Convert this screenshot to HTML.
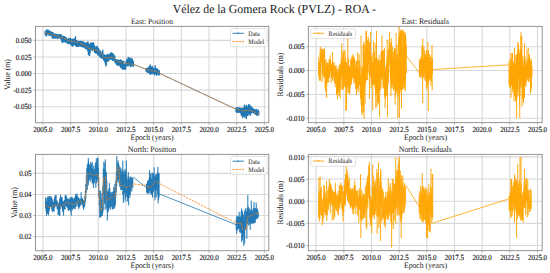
<!DOCTYPE html>
<html><head><meta charset="utf-8"><style>html,body{margin:0;padding:0;background:#fff;width:550px;height:273px;overflow:hidden}svg{display:block} text{fill:#1a1a1a;text-rendering:geometricPrecision} text.k{stroke:#111;stroke-width:0.12px;fill:#111}</style></head>
<body><svg width="550" height="273" viewBox="0 0 550 273" font-family='"Liberation Serif", serif' fill="#1a1a1a"><defs><clipPath id="cTL"><rect x="35.5" y="26.4" width="233.3" height="96.30000000000001"/></clipPath><clipPath id="cTR"><rect x="308.4" y="26.4" width="233.80000000000007" height="96.19999999999999"/></clipPath><clipPath id="cBL"><rect x="35.5" y="154.4" width="233.3" height="96.29999999999998"/></clipPath><clipPath id="cBR"><rect x="308.4" y="154.4" width="233.80000000000007" height="96.19999999999999"/></clipPath></defs><rect width="550" height="273" fill="#fff"/><text transform="translate(274.4,12.6) scale(0.9601,1)" font-size="12.3" text-anchor="middle">Vélez de la Gomera Rock (PVLZ) - ROA -</text>
<text transform="translate(152,23.8) scale(0.9259,1)" font-size="8.23" text-anchor="middle">East: Position</text>
<text transform="translate(425.3,23.8) scale(0.9259,1)" font-size="8.31" text-anchor="middle">East: Residuals</text>
<text transform="translate(152,151.6) scale(0.9259,1)" font-size="8.50" text-anchor="middle">North: Position</text>
<text transform="translate(425.3,151.6) scale(0.9259,1)" font-size="8.50" text-anchor="middle">North: Residuals</text>
<text transform="translate(152,139.9) scale(0.9259,1)" font-size="8.37" text-anchor="middle">Epoch (years)</text>
<text transform="translate(152,268.0) scale(0.9259,1)" font-size="8.37" text-anchor="middle">Epoch (years)</text>
<text transform="translate(425.5,139.9) scale(0.9259,1)" font-size="8.37" text-anchor="middle">Epoch (years)</text>
<text transform="translate(425.5,268.0) scale(0.9259,1)" font-size="8.37" text-anchor="middle">Epoch (years)</text>
<text transform="translate(9.8,74.5) rotate(-90) scale(0.9259,1)" font-size="8.42" text-anchor="middle">Value (m)</text>
<text transform="translate(16.8,202.5) rotate(-90) scale(0.9259,1)" font-size="8.42" text-anchor="middle">Value (m)</text>
<text transform="translate(282.8,74.5) rotate(-90) scale(0.9259,1)" font-size="8.48" text-anchor="middle">Residuals (m)</text>
<text transform="translate(282.8,202.5) rotate(-90) scale(0.9259,1)" font-size="8.48" text-anchor="middle">Residuals (m)</text>
<line x1="42.90" y1="26.4" x2="42.90" y2="122.7" stroke="#d8d8d8" stroke-width="1.1"/>
<line x1="70.59" y1="26.4" x2="70.59" y2="122.7" stroke="#d8d8d8" stroke-width="1.1"/>
<line x1="98.28" y1="26.4" x2="98.28" y2="122.7" stroke="#d8d8d8" stroke-width="1.1"/>
<line x1="125.96" y1="26.4" x2="125.96" y2="122.7" stroke="#d8d8d8" stroke-width="1.1"/>
<line x1="153.65" y1="26.4" x2="153.65" y2="122.7" stroke="#d8d8d8" stroke-width="1.1"/>
<line x1="181.34" y1="26.4" x2="181.34" y2="122.7" stroke="#d8d8d8" stroke-width="1.1"/>
<line x1="209.03" y1="26.4" x2="209.03" y2="122.7" stroke="#d8d8d8" stroke-width="1.1"/>
<line x1="236.71" y1="26.4" x2="236.71" y2="122.7" stroke="#d8d8d8" stroke-width="1.1"/>
<line x1="264.40" y1="26.4" x2="264.40" y2="122.7" stroke="#d8d8d8" stroke-width="1.1"/>
<line x1="35.5" y1="40.40" x2="268.8" y2="40.40" stroke="#d8d8d8" stroke-width="1.1"/>
<line x1="35.5" y1="56.97" x2="268.8" y2="56.97" stroke="#d8d8d8" stroke-width="1.1"/>
<line x1="35.5" y1="73.55" x2="268.8" y2="73.55" stroke="#d8d8d8" stroke-width="1.1"/>
<line x1="35.5" y1="90.12" x2="268.8" y2="90.12" stroke="#d8d8d8" stroke-width="1.1"/>
<line x1="35.5" y1="106.70" x2="268.8" y2="106.70" stroke="#d8d8d8" stroke-width="1.1"/>
<g clip-path="url(#cTL)">
<path d="M45.20 31.30V34.87M45.80 31.83V35.29M46.40 30.10V36.03M47.00 30.04V33.83M47.60 30.23V33.93M48.20 30.24V35.10M48.80 30.83V34.56M49.40 31.65V34.49M50.00 31.11V35.66M50.60 31.82V34.62M51.20 31.82V34.96M51.80 33.15V36.34M52.40 32.44V38.04M53.00 32.70V38.20M53.60 34.15V37.39M54.20 33.89V37.68M54.80 34.32V38.42M55.40 34.38V37.84M56.00 34.24V37.84M56.60 34.59V37.57M57.20 34.63V38.51M57.80 35.25V38.08M58.40 34.80V37.73M59.00 34.94V37.92M59.60 34.62V38.05M60.20 34.62V37.59M60.80 35.37V38.79M61.40 34.87V39.82M62.00 36.65V42.44M62.60 36.35V40.75M63.20 36.35V41.87M63.80 36.76V41.87M64.40 36.72V41.62M65.00 37.00V41.46M65.60 38.42V42.27M66.20 37.63V41.68M66.80 39.13V41.93M67.40 39.31V43.39M68.00 39.39V42.64M68.60 38.42V43.46M69.20 38.70V43.38M69.80 39.67V41.94M70.40 38.38V44.16M71.00 39.47V43.93M71.60 39.42V45.17M72.20 39.13V45.96M72.80 39.66V46.20M73.40 40.45V45.19M74.00 38.97V44.46M74.60 39.33V44.54M75.20 38.32V44.34M75.80 40.78V45.99M76.40 40.35V44.12M77.00 40.73V46.49M77.60 41.57V45.30M78.20 41.72V46.56M78.80 41.67V45.31M79.40 41.29V45.92M80.00 41.66V45.92M80.60 41.51V44.98M81.20 41.44V46.43M81.80 42.35V46.67M82.40 41.75V46.64M83.00 42.58V45.69M83.60 41.90V47.19M84.20 42.62V46.80M84.80 43.18V47.27M85.40 43.78V48.38M86.00 42.96V48.74M86.60 44.05V48.88M87.20 42.77V48.48M87.80 43.45V51.06M88.40 43.82V54.81M89.00 45.56V51.95M89.60 44.28V55.41M90.20 43.53V52.81M90.80 43.25V49.39M91.40 44.42V49.21M92.00 42.84V50.24M92.60 43.41V50.24M93.20 42.73V49.51M93.80 43.70V49.42M94.40 45.90V52.16M95.00 46.38V51.80M95.60 47.94V53.06M96.20 47.81V52.65M96.80 46.41V53.22M97.40 46.56V53.82M98.00 49.24V55.13M98.60 48.56V53.84M99.20 50.21V55.03M99.80 50.81V56.65M100.40 50.81V56.74M101.00 51.78V57.95M101.60 53.08V57.18M102.20 53.34V58.12M102.80 54.42V58.13M103.40 54.89V59.23M104.00 55.65V60.39M104.60 54.89V61.17M105.20 56.22V63.06M105.80 55.49V65.93M106.40 56.21V64.67M107.00 54.96V60.34M107.60 54.31V61.23M108.20 55.33V61.05M108.80 54.88V60.06M109.40 54.07V59.83M110.00 54.39V57.87M110.60 53.86V58.66M111.20 54.91V59.21M111.80 53.10V58.45M112.40 53.79V60.43M113.00 53.56V59.66M113.60 54.70V58.64M114.20 55.94V60.71M114.80 56.00V61.86M115.40 59.47V62.82M116.00 59.60V63.35M116.60 59.99V64.30M117.20 59.83V65.10M117.80 60.03V65.37M118.40 60.41V63.42M119.00 61.52V65.02M119.60 60.29V64.16M120.20 59.75V66.46M120.80 61.26V67.40M121.40 60.50V67.74M122.00 61.26V68.27M122.60 61.73V69.17M123.20 62.78V68.16M123.80 61.06V69.03M124.40 64.17V68.30M125.00 64.89V69.15M125.60 62.89V69.15M126.20 61.40V66.35M126.80 59.49V65.25M127.40 59.44V65.56M128.00 59.00V65.91M128.60 59.23V64.85M129.20 57.92V64.53M129.80 59.37V65.53M130.40 58.98V66.64M131.00 58.23V64.24M131.60 59.74V65.74M132.20 58.99V65.86M132.80 60.76V65.86M133.40 61.61V66.33M146.10 68.63V71.37M146.70 68.28V71.05M147.30 68.48V72.27M147.90 68.79V72.18M148.50 67.37V71.06M149.10 67.00V73.14M149.70 66.23V72.49M150.30 65.80V74.44M150.90 67.10V72.37M151.50 67.09V73.58M152.10 66.45V73.95M152.70 67.03V72.02M153.30 68.27V73.29M153.90 69.01V72.76M154.50 69.25V74.73M155.10 65.61V73.55M155.70 68.65V73.77M156.30 68.65V75.08M156.90 68.70V75.12M157.50 69.49V73.63M158.10 70.16V73.83M158.70 70.44V74.82M159.30 71.00V74.82M236.00 108.00V111.42M236.60 107.93V112.34M237.20 109.09V112.58M237.80 107.73V112.11M238.40 108.22V112.09M239.00 108.22V112.36M239.60 107.78V111.65M240.20 108.19V112.79M240.80 108.48V113.15M241.40 109.00V115.60M242.00 108.17V115.55M242.60 108.36V114.95M243.20 108.15V114.85M243.80 108.01V115.91M244.40 105.23V116.15M245.00 107.29V117.21M245.60 108.31V114.47M246.20 108.52V115.50M246.80 106.19V115.41M247.40 106.82V115.23M248.00 107.44V115.23M248.60 105.31V113.49M249.20 106.47V111.88M249.80 105.03V114.52M250.40 106.31V115.27M251.00 106.31V111.88M251.60 107.68V112.90M252.20 108.52V112.35M252.80 107.96V111.88M253.40 109.32V112.77M254.00 109.59V112.91M254.60 109.40V112.30M255.20 109.83V114.21M255.80 110.66V113.73M256.40 109.32V115.05M257.00 111.31V114.55M257.60 110.70V115.19M258.20 109.93V115.21M258.80 111.34V114.52M75.40 41.85L75.48 36.60M88.00 47.85L87.94 41.80M92.90 49.40L92.84 43.20M103.00 56.27L102.77 50.20M110.80 57.16L110.98 52.60M128.40 63.83L128.19 57.40M150.20 70.19L150.24 64.80M246.00 110.61L246.11 105.20M248.60 110.41L248.85 104.40M243.00 110.85L242.85 117.80M246.30 110.58L246.39 118.60" fill="none" stroke="#1f77b4" stroke-width="1.3" stroke-linecap="round"/>
<polyline points="133.6,64.3 146.1,69.3" fill="none" stroke="#1f77b4" stroke-width="0.8"/>
<polyline points="159.8,73.4 235.9,109.2" fill="none" stroke="#1f77b4" stroke-width="0.8"/>
<polyline points="45.10,33.00 49.50,33.60 53.20,34.80 56.80,36.20 59.00,37.10 62.00,37.70 64.90,38.80 67.80,40.20 70.80,41.00 75.20,41.80 78.70,42.60 82.30,44.30 84.50,45.20 88.20,48.00 90.40,48.80 93.30,49.50 96.20,49.90 99.20,51.40 100.70,53.20 103.70,57.20 107.30,58.30 111.00,57.10 113.90,58.00 116.80,61.40 120.50,62.10 123.70,63.30 126.00,63.60 128.10,63.80 130.30,64.00 133.60,64.50 146.00,69.30 149.30,70.00 153.00,70.80 156.60,71.50 159.80,73.60 235.90,109.20 239.50,109.90 243.20,110.90 246.10,110.60 248.70,110.40 251.20,111.00 254.20,111.70 257.10,113.00 258.90,113.50" fill="none" stroke="#ff7f0e" stroke-width="0.8" stroke-dasharray="2.2,1.1"/>
</g>
<rect x="35.5" y="26.4" width="233.3" height="96.30000000000001" fill="none" stroke="#959595" stroke-width="1"/>
<line x1="42.90" y1="122.7" x2="42.90" y2="124.7" stroke="#959595" stroke-width="0.8"/>
<text transform="translate(42.90,132.00) scale(0.8860759493670886,1)" font-size="7.9" text-anchor="middle" class="k">2005.0</text>
<line x1="70.59" y1="122.7" x2="70.59" y2="124.7" stroke="#959595" stroke-width="0.8"/>
<text transform="translate(70.59,132.00) scale(0.8860759493670886,1)" font-size="7.9" text-anchor="middle" class="k">2007.5</text>
<line x1="98.28" y1="122.7" x2="98.28" y2="124.7" stroke="#959595" stroke-width="0.8"/>
<text transform="translate(98.28,132.00) scale(0.8860759493670886,1)" font-size="7.9" text-anchor="middle" class="k">2010.0</text>
<line x1="125.96" y1="122.7" x2="125.96" y2="124.7" stroke="#959595" stroke-width="0.8"/>
<text transform="translate(125.96,132.00) scale(0.8860759493670886,1)" font-size="7.9" text-anchor="middle" class="k">2012.5</text>
<line x1="153.65" y1="122.7" x2="153.65" y2="124.7" stroke="#959595" stroke-width="0.8"/>
<text transform="translate(153.65,132.00) scale(0.8860759493670886,1)" font-size="7.9" text-anchor="middle" class="k">2015.0</text>
<line x1="181.34" y1="122.7" x2="181.34" y2="124.7" stroke="#959595" stroke-width="0.8"/>
<text transform="translate(181.34,132.00) scale(0.8860759493670886,1)" font-size="7.9" text-anchor="middle" class="k">2017.5</text>
<line x1="209.03" y1="122.7" x2="209.03" y2="124.7" stroke="#959595" stroke-width="0.8"/>
<text transform="translate(209.03,132.00) scale(0.8860759493670886,1)" font-size="7.9" text-anchor="middle" class="k">2020.0</text>
<line x1="236.71" y1="122.7" x2="236.71" y2="124.7" stroke="#959595" stroke-width="0.8"/>
<text transform="translate(236.71,132.00) scale(0.8860759493670886,1)" font-size="7.9" text-anchor="middle" class="k">2022.5</text>
<line x1="264.40" y1="122.7" x2="264.40" y2="124.7" stroke="#959595" stroke-width="0.8"/>
<text transform="translate(264.40,132.00) scale(0.8860759493670886,1)" font-size="7.9" text-anchor="middle" class="k">2025.0</text>
<line x1="33.5" y1="40.40" x2="35.5" y2="40.40" stroke="#959595" stroke-width="0.8"/>
<text transform="translate(31.50,43.07) scale(0.8860759493670886,1)" font-size="7.9" text-anchor="end" class="k">0.050</text>
<line x1="33.5" y1="56.97" x2="35.5" y2="56.97" stroke="#959595" stroke-width="0.8"/>
<text transform="translate(31.50,59.65) scale(0.8860759493670886,1)" font-size="7.9" text-anchor="end" class="k">0.025</text>
<line x1="33.5" y1="73.55" x2="35.5" y2="73.55" stroke="#959595" stroke-width="0.8"/>
<text transform="translate(31.50,76.22) scale(0.8860759493670886,1)" font-size="7.9" text-anchor="end" class="k">0.000</text>
<line x1="33.5" y1="90.12" x2="35.5" y2="90.12" stroke="#959595" stroke-width="0.8"/>
<text transform="translate(31.50,92.80) scale(0.8860759493670886,1)" font-size="7.9" text-anchor="end" class="k">-0.025</text>
<line x1="33.5" y1="106.70" x2="35.5" y2="106.70" stroke="#959595" stroke-width="0.8"/>
<text transform="translate(31.50,109.37) scale(0.8860759493670886,1)" font-size="7.9" text-anchor="end" class="k">-0.050</text>
<line x1="316.10" y1="26.4" x2="316.10" y2="122.6" stroke="#d8d8d8" stroke-width="1.1"/>
<line x1="343.78" y1="26.4" x2="343.78" y2="122.6" stroke="#d8d8d8" stroke-width="1.1"/>
<line x1="371.45" y1="26.4" x2="371.45" y2="122.6" stroke="#d8d8d8" stroke-width="1.1"/>
<line x1="399.12" y1="26.4" x2="399.12" y2="122.6" stroke="#d8d8d8" stroke-width="1.1"/>
<line x1="426.80" y1="26.4" x2="426.80" y2="122.6" stroke="#d8d8d8" stroke-width="1.1"/>
<line x1="454.48" y1="26.4" x2="454.48" y2="122.6" stroke="#d8d8d8" stroke-width="1.1"/>
<line x1="482.15" y1="26.4" x2="482.15" y2="122.6" stroke="#d8d8d8" stroke-width="1.1"/>
<line x1="509.82" y1="26.4" x2="509.82" y2="122.6" stroke="#d8d8d8" stroke-width="1.1"/>
<line x1="537.50" y1="26.4" x2="537.50" y2="122.6" stroke="#d8d8d8" stroke-width="1.1"/>
<line x1="308.4" y1="46.70" x2="542.2" y2="46.70" stroke="#d8d8d8" stroke-width="1.1"/>
<line x1="308.4" y1="70.57" x2="542.2" y2="70.57" stroke="#d8d8d8" stroke-width="1.1"/>
<line x1="308.4" y1="94.44" x2="542.2" y2="94.44" stroke="#d8d8d8" stroke-width="1.1"/>
<line x1="308.4" y1="118.30" x2="542.2" y2="118.30" stroke="#d8d8d8" stroke-width="1.1"/>
<g clip-path="url(#cTR)">
<path d="M318.60 57.52V75.33M319.10 62.39V79.18M319.60 61.64V80.86M320.10 52.40V75.42M320.60 52.21V80.78M321.10 48.65V66.14M321.60 48.58V61.95M322.10 51.87V82.34M322.60 48.99V74.31M323.10 52.41V69.51M323.60 50.22V76.24M324.10 48.42V78.38M324.60 48.42V77.64M325.10 60.35V88.17M325.60 65.64V91.80M326.10 59.21V87.06M326.60 62.85V85.74M327.10 64.80V83.02M327.60 62.88V81.91M328.10 62.37V79.42M328.60 65.14V82.31M329.10 59.22V77.77M329.60 59.22V77.43M330.10 55.58V73.79M330.60 59.40V72.51M331.10 64.46V82.74M331.60 64.39V78.29M332.10 61.85V75.68M332.60 61.85V81.07M333.10 66.73V76.20M333.60 62.35V77.32M334.10 61.86V80.44M334.60 65.74V82.90M335.10 69.68V87.37M335.60 65.99V83.74M336.10 64.98V82.35M336.60 73.92V94.84M337.10 68.01V91.34M337.60 72.11V99.32M338.10 72.20V92.73M338.60 68.98V92.96M339.10 65.23V86.13M339.60 65.62V91.01M340.10 63.62V97.95M340.60 64.55V88.00M341.10 58.08V89.94M341.60 58.08V76.62M342.10 51.23V79.00M342.60 62.97V89.62M343.10 56.03V89.62M343.60 58.49V88.82M344.10 50.21V78.91M344.60 62.30V86.72M345.10 50.36V84.19M345.60 57.93V87.64M346.10 62.58V78.78M346.60 61.85V85.68M347.10 67.49V94.15M347.60 64.93V87.25M348.10 57.21V86.43M348.60 59.12V92.21M349.10 66.27V92.21M349.60 66.27V94.95M350.10 66.98V88.46M350.60 59.70V85.53M351.10 60.77V83.21M351.60 57.50V84.17M352.10 55.63V76.43M352.60 57.25V78.44M353.10 54.05V77.08M353.60 56.37V80.60M354.10 60.70V83.81M354.60 57.76V77.25M355.10 60.66V82.20M355.60 67.43V89.23M356.10 64.97V88.44M356.60 61.00V84.29M357.10 60.25V85.07M357.60 60.70V88.62M358.10 59.78V92.19M358.60 68.82V90.24M359.10 54.02V83.56M359.60 60.46V85.05M360.10 66.42V93.67M360.60 74.96V98.39M361.10 72.87V99.63M361.60 79.52V112.48M362.10 65.75V115.10M362.60 69.07V106.19M363.10 45.38V111.68M363.60 43.39V95.76M364.10 41.13V92.93M364.60 50.45V85.98M365.10 44.63V104.15M365.60 45.96V83.48M366.10 32.73V80.32M366.60 39.37V80.32M367.10 45.35V72.39M367.60 40.25V79.95M368.10 36.63V73.18M368.60 38.78V64.79M369.10 50.28V70.34M369.60 42.27V74.23M370.10 42.10V72.85M370.60 32.00V76.63M371.10 56.03V88.01M371.60 55.90V81.91M372.10 53.07V83.79M372.60 62.71V84.10M373.10 61.77V85.38M373.60 40.74V84.34M374.10 58.41V84.39M374.60 51.63V85.10M375.10 42.93V89.29M375.60 57.98V95.14M376.10 57.98V94.13M376.60 57.11V91.54M377.10 62.47V88.84M377.60 58.77V102.87M378.10 61.70V104.42M378.60 60.37V102.07M379.10 55.13V88.58M379.60 62.30V91.23M380.10 59.55V80.68M380.60 60.33V89.68M381.10 50.77V79.34M381.60 54.07V77.41M382.10 51.54V87.54M382.60 52.71V79.91M383.10 49.78V76.83M383.60 50.41V88.68M384.10 53.05V86.14M384.60 48.09V96.57M385.10 66.79V108.32M385.60 73.84V99.00M386.10 65.99V94.65M386.60 62.82V95.76M387.10 56.90V86.61M387.60 63.27V88.37M388.10 50.35V84.38M388.60 49.12V82.43M389.10 39.08V65.84M389.60 31.85V62.64M390.10 43.70V74.40M390.60 42.63V80.84M391.10 54.07V87.95M391.60 57.15V85.13M392.10 57.61V88.73M392.60 46.64V85.54M393.10 57.13V81.53M393.60 51.59V90.81M394.10 58.50V88.30M394.60 48.08V89.18M395.10 62.22V104.76M395.60 48.85V97.40M396.10 32.78V91.40M396.60 55.63V93.26M397.10 44.73V90.89M397.60 54.10V88.98M398.10 60.55V96.30M398.60 36.44V93.67M399.10 24.74V79.53M399.60 40.41V99.82M399.60 32.39V91.02M400.05 33.42V92.65M400.50 31.25V89.45M400.95 29.45V89.81M401.40 30.66V89.06M401.85 31.96V89.49M402.30 29.40V89.45M402.75 51.12V89.96M403.20 31.00V87.31M403.65 30.88V87.37M404.10 33.35V80.66M404.55 33.28V88.88M405.00 31.92V84.58M405.45 34.59V82.05M405.90 38.56V54.86M406.35 44.74V73.54M419.40 59.14V77.36M419.90 60.87V76.09M420.40 60.12V76.51M420.90 56.52V78.02M421.40 58.05V76.17M421.90 45.34V73.78M422.40 50.12V79.35M422.90 47.09V77.02M423.40 58.92V77.20M423.90 46.71V77.65M424.40 50.52V73.49M424.90 56.65V79.56M425.40 53.93V81.32M425.90 56.01V76.57M426.40 50.22V88.15M426.90 50.22V89.41M427.40 56.53V85.21M427.90 63.79V82.29M428.40 50.70V82.05M428.90 57.33V81.91M429.40 53.87V79.44M429.90 54.80V79.43M430.40 61.49V79.43M430.90 57.08V85.87M431.40 56.57V81.43M431.90 60.64V72.39M432.40 58.45V74.47M509.00 61.29V83.95M509.50 70.16V86.09M510.00 58.92V87.13M510.50 65.14V87.43M511.00 52.99V97.83M511.50 58.51V85.35M512.00 52.97V83.89M512.50 52.97V90.81M513.00 66.66V92.83M513.50 61.70V88.66M514.00 64.14V101.72M514.50 64.14V96.52M515.00 57.29V95.57M515.50 65.28V100.95M516.00 54.69V89.54M516.50 54.56V105.08M517.00 60.87V97.52M517.50 50.16V89.68M518.00 54.45V96.25M518.50 43.56V78.53M519.00 49.07V92.04M519.50 54.21V105.30M520.00 50.54V96.35M520.50 48.68V87.04M521.00 32.20V88.08M521.50 50.41V82.91M522.00 55.10V82.58M522.50 61.91V98.85M523.00 56.44V99.58M523.50 65.84V103.08M524.00 60.34V89.52M524.50 65.46V98.11M525.00 55.86V83.32M525.50 61.84V85.74M526.00 59.80V86.50M526.50 64.72V81.29M527.00 49.19V74.54M527.50 62.06V79.19M528.00 58.31V81.50M528.50 57.72V81.99M529.00 60.13V76.11M529.50 54.30V77.66M530.00 63.43V82.43M530.50 60.94V93.70M531.00 57.93V83.43M531.50 60.41V88.56M532.00 66.48V76.58M320.40 70.50L320.22 47.40M332.70 70.50L332.52 52.90M341.90 70.50L341.72 44.10M343.70 70.50L343.47 52.90M347.90 70.50L347.80 39.20M357.50 70.50L357.67 52.90M361.10 70.50L360.99 36.40M366.30 70.50L366.19 31.00M366.60 70.50L366.42 31.50M376.50 70.50L376.53 31.50M382.00 70.50L381.85 36.40M387.00 70.50L387.19 40.30M391.40 70.50L391.60 39.20M394.70 70.50L394.66 48.50M326.70 70.50L326.62 97.20M336.60 70.50L336.71 94.40M339.30 70.50L339.23 95.50M345.90 70.50L345.80 110.30M346.50 70.50L346.48 109.30M349.80 70.50L349.75 92.70M356.40 70.50L356.57 94.40M361.30 70.50L361.14 104.30M364.00 70.50L364.08 118.00M363.40 70.50L363.62 112.00M369.40 70.50L369.39 98.20M372.70 70.50L372.76 109.80M376.00 70.50L375.76 107.60M377.20 70.50L376.96 106.00M379.80 70.50L379.56 116.40M385.30 70.50L385.22 96.00M387.50 70.50L387.48 116.40M390.80 70.50L390.96 95.50M398.00 70.50L397.77 117.50M399.20 70.50L399.45 117.00M401.40 70.50L401.54 108.00M405.10 70.50L405.25 90.50M422.60 70.50L422.82 39.20M427.70 70.50L427.88 42.50M432.00 70.50L431.99 45.80M422.60 70.50L422.79 102.70M428.40 70.50L428.24 110.40M432.00 70.50L432.24 89.50M514.70 70.50L514.47 48.30M518.00 70.50L517.88 42.50M521.20 70.50L520.97 36.20M522.00 70.50L521.77 37.30M524.50 70.50L524.48 43.90M528.20 70.50L528.27 48.00M509.50 70.50L509.70 86.80M516.50 70.50L516.73 118.00M519.80 70.50L519.71 117.00M522.00 70.50L521.97 106.00M523.00 70.50L523.11 96.60M530.80 70.50L530.76 91.60" fill="none" stroke="#ffa500" stroke-width="0.95"/>
<circle cx="320.40" cy="47.40" r="0.6" fill="#ffa500"/>
<circle cx="332.70" cy="52.90" r="0.6" fill="#ffa500"/>
<circle cx="341.90" cy="44.10" r="0.6" fill="#ffa500"/>
<circle cx="343.70" cy="52.90" r="0.6" fill="#ffa500"/>
<circle cx="347.90" cy="39.20" r="0.6" fill="#ffa500"/>
<circle cx="357.50" cy="52.90" r="0.6" fill="#ffa500"/>
<circle cx="361.10" cy="36.40" r="0.6" fill="#ffa500"/>
<circle cx="366.30" cy="31.00" r="0.6" fill="#ffa500"/>
<circle cx="366.60" cy="31.50" r="0.6" fill="#ffa500"/>
<circle cx="376.50" cy="31.50" r="0.6" fill="#ffa500"/>
<circle cx="382.00" cy="36.40" r="0.6" fill="#ffa500"/>
<circle cx="387.00" cy="40.30" r="0.6" fill="#ffa500"/>
<circle cx="391.40" cy="39.20" r="0.6" fill="#ffa500"/>
<circle cx="394.70" cy="48.50" r="0.6" fill="#ffa500"/>
<circle cx="326.70" cy="97.20" r="0.6" fill="#ffa500"/>
<circle cx="336.60" cy="94.40" r="0.6" fill="#ffa500"/>
<circle cx="339.30" cy="95.50" r="0.6" fill="#ffa500"/>
<circle cx="345.90" cy="110.30" r="0.6" fill="#ffa500"/>
<circle cx="346.50" cy="109.30" r="0.6" fill="#ffa500"/>
<circle cx="349.80" cy="92.70" r="0.6" fill="#ffa500"/>
<circle cx="356.40" cy="94.40" r="0.6" fill="#ffa500"/>
<circle cx="361.30" cy="104.30" r="0.6" fill="#ffa500"/>
<circle cx="364.00" cy="118.00" r="0.6" fill="#ffa500"/>
<circle cx="363.40" cy="112.00" r="0.6" fill="#ffa500"/>
<circle cx="369.40" cy="98.20" r="0.6" fill="#ffa500"/>
<circle cx="372.70" cy="109.80" r="0.6" fill="#ffa500"/>
<circle cx="376.00" cy="107.60" r="0.6" fill="#ffa500"/>
<circle cx="377.20" cy="106.00" r="0.6" fill="#ffa500"/>
<circle cx="379.80" cy="116.40" r="0.6" fill="#ffa500"/>
<circle cx="385.30" cy="96.00" r="0.6" fill="#ffa500"/>
<circle cx="387.50" cy="116.40" r="0.6" fill="#ffa500"/>
<circle cx="390.80" cy="95.50" r="0.6" fill="#ffa500"/>
<circle cx="398.00" cy="117.50" r="0.6" fill="#ffa500"/>
<circle cx="399.20" cy="117.00" r="0.6" fill="#ffa500"/>
<circle cx="401.40" cy="108.00" r="0.6" fill="#ffa500"/>
<circle cx="405.10" cy="90.50" r="0.6" fill="#ffa500"/>
<circle cx="422.60" cy="39.20" r="0.6" fill="#ffa500"/>
<circle cx="427.70" cy="42.50" r="0.6" fill="#ffa500"/>
<circle cx="432.00" cy="45.80" r="0.6" fill="#ffa500"/>
<circle cx="422.60" cy="102.70" r="0.6" fill="#ffa500"/>
<circle cx="428.40" cy="110.40" r="0.6" fill="#ffa500"/>
<circle cx="432.00" cy="89.50" r="0.6" fill="#ffa500"/>
<circle cx="514.70" cy="48.30" r="0.6" fill="#ffa500"/>
<circle cx="518.00" cy="42.50" r="0.6" fill="#ffa500"/>
<circle cx="521.20" cy="36.20" r="0.6" fill="#ffa500"/>
<circle cx="522.00" cy="37.30" r="0.6" fill="#ffa500"/>
<circle cx="524.50" cy="43.90" r="0.6" fill="#ffa500"/>
<circle cx="528.20" cy="48.00" r="0.6" fill="#ffa500"/>
<circle cx="509.50" cy="86.80" r="0.6" fill="#ffa500"/>
<circle cx="516.50" cy="118.00" r="0.6" fill="#ffa500"/>
<circle cx="519.80" cy="117.00" r="0.6" fill="#ffa500"/>
<circle cx="522.00" cy="106.00" r="0.6" fill="#ffa500"/>
<circle cx="523.00" cy="96.60" r="0.6" fill="#ffa500"/>
<circle cx="530.80" cy="91.60" r="0.6" fill="#ffa500"/>
<polyline points="406.5,56 419.4,73" fill="none" stroke="#ffa500" stroke-width="0.8"/>
<polyline points="432.7,69.5 509,64.8" fill="none" stroke="#ffa500" stroke-width="0.8"/>
</g>
<rect x="308.4" y="26.4" width="233.80000000000007" height="96.19999999999999" fill="none" stroke="#959595" stroke-width="1"/>
<line x1="316.10" y1="122.6" x2="316.10" y2="124.6" stroke="#959595" stroke-width="0.8"/>
<text transform="translate(316.10,131.90) scale(0.8860759493670886,1)" font-size="7.9" text-anchor="middle" class="k">2005.0</text>
<line x1="343.78" y1="122.6" x2="343.78" y2="124.6" stroke="#959595" stroke-width="0.8"/>
<text transform="translate(343.78,131.90) scale(0.8860759493670886,1)" font-size="7.9" text-anchor="middle" class="k">2007.5</text>
<line x1="371.45" y1="122.6" x2="371.45" y2="124.6" stroke="#959595" stroke-width="0.8"/>
<text transform="translate(371.45,131.90) scale(0.8860759493670886,1)" font-size="7.9" text-anchor="middle" class="k">2010.0</text>
<line x1="399.12" y1="122.6" x2="399.12" y2="124.6" stroke="#959595" stroke-width="0.8"/>
<text transform="translate(399.12,131.90) scale(0.8860759493670886,1)" font-size="7.9" text-anchor="middle" class="k">2012.5</text>
<line x1="426.80" y1="122.6" x2="426.80" y2="124.6" stroke="#959595" stroke-width="0.8"/>
<text transform="translate(426.80,131.90) scale(0.8860759493670886,1)" font-size="7.9" text-anchor="middle" class="k">2015.0</text>
<line x1="454.48" y1="122.6" x2="454.48" y2="124.6" stroke="#959595" stroke-width="0.8"/>
<text transform="translate(454.48,131.90) scale(0.8860759493670886,1)" font-size="7.9" text-anchor="middle" class="k">2017.5</text>
<line x1="482.15" y1="122.6" x2="482.15" y2="124.6" stroke="#959595" stroke-width="0.8"/>
<text transform="translate(482.15,131.90) scale(0.8860759493670886,1)" font-size="7.9" text-anchor="middle" class="k">2020.0</text>
<line x1="509.82" y1="122.6" x2="509.82" y2="124.6" stroke="#959595" stroke-width="0.8"/>
<text transform="translate(509.82,131.90) scale(0.8860759493670886,1)" font-size="7.9" text-anchor="middle" class="k">2022.5</text>
<line x1="537.50" y1="122.6" x2="537.50" y2="124.6" stroke="#959595" stroke-width="0.8"/>
<text transform="translate(537.50,131.90) scale(0.8860759493670886,1)" font-size="7.9" text-anchor="middle" class="k">2025.0</text>
<line x1="306.4" y1="46.70" x2="308.4" y2="46.70" stroke="#959595" stroke-width="0.8"/>
<text transform="translate(304.40,49.38) scale(0.8860759493670886,1)" font-size="7.9" text-anchor="end" class="k">0.005</text>
<line x1="306.4" y1="70.57" x2="308.4" y2="70.57" stroke="#959595" stroke-width="0.8"/>
<text transform="translate(304.40,73.24) scale(0.8860759493670886,1)" font-size="7.9" text-anchor="end" class="k">0.000</text>
<line x1="306.4" y1="94.44" x2="308.4" y2="94.44" stroke="#959595" stroke-width="0.8"/>
<text transform="translate(304.40,97.11) scale(0.8860759493670886,1)" font-size="7.9" text-anchor="end" class="k">-0.005</text>
<line x1="306.4" y1="118.30" x2="308.4" y2="118.30" stroke="#959595" stroke-width="0.8"/>
<text transform="translate(304.40,120.97) scale(0.8860759493670886,1)" font-size="7.9" text-anchor="end" class="k">-0.010</text>
<line x1="42.90" y1="154.4" x2="42.90" y2="250.7" stroke="#d8d8d8" stroke-width="1.1"/>
<line x1="70.59" y1="154.4" x2="70.59" y2="250.7" stroke="#d8d8d8" stroke-width="1.1"/>
<line x1="98.28" y1="154.4" x2="98.28" y2="250.7" stroke="#d8d8d8" stroke-width="1.1"/>
<line x1="125.96" y1="154.4" x2="125.96" y2="250.7" stroke="#d8d8d8" stroke-width="1.1"/>
<line x1="153.65" y1="154.4" x2="153.65" y2="250.7" stroke="#d8d8d8" stroke-width="1.1"/>
<line x1="181.34" y1="154.4" x2="181.34" y2="250.7" stroke="#d8d8d8" stroke-width="1.1"/>
<line x1="209.03" y1="154.4" x2="209.03" y2="250.7" stroke="#d8d8d8" stroke-width="1.1"/>
<line x1="236.71" y1="154.4" x2="236.71" y2="250.7" stroke="#d8d8d8" stroke-width="1.1"/>
<line x1="264.40" y1="154.4" x2="264.40" y2="250.7" stroke="#d8d8d8" stroke-width="1.1"/>
<line x1="35.5" y1="173.40" x2="268.8" y2="173.40" stroke="#d8d8d8" stroke-width="1.1"/>
<line x1="35.5" y1="194.47" x2="268.8" y2="194.47" stroke="#d8d8d8" stroke-width="1.1"/>
<line x1="35.5" y1="215.54" x2="268.8" y2="215.54" stroke="#d8d8d8" stroke-width="1.1"/>
<line x1="35.5" y1="236.61" x2="268.8" y2="236.61" stroke="#d8d8d8" stroke-width="1.1"/>
<g clip-path="url(#cBL)">
<path d="M45.60 197.89V208.16M46.10 198.28V211.28M46.60 201.91V207.84M47.10 201.54V211.31M47.60 197.12V213.65M48.10 200.89V213.61M48.60 196.81V215.06M49.10 199.85V210.96M49.60 196.60V209.22M50.10 196.60V207.32M50.60 198.39V205.83M51.10 196.56V206.44M51.60 197.50V208.52M52.10 199.15V211.18M52.60 200.86V211.06M53.10 203.18V208.00M53.60 202.45V211.02M54.10 199.96V211.28M54.60 197.61V207.35M55.10 195.80V203.65M55.60 195.52V206.19M56.10 195.52V206.20M56.60 200.65V205.46M57.10 201.07V208.83M57.60 202.26V208.85M58.10 204.08V214.51M58.60 203.60V214.51M59.10 203.33V211.01M59.60 198.60V215.02M60.10 200.53V208.76M60.60 195.11V206.66M61.10 198.68V206.66M61.60 197.18V206.30M62.10 197.66V208.15M62.60 201.17V211.46M63.10 201.13V209.67M63.60 201.99V215.29M64.10 201.89V208.81M64.60 200.44V209.01M65.10 195.88V209.01M65.60 195.78V204.77M66.10 195.49V205.50M66.60 196.99V206.69M67.10 198.32V205.31M67.60 199.51V207.55M68.10 199.09V209.79M68.60 199.85V210.49M69.10 200.12V209.62M69.60 199.06V209.45M70.10 197.62V209.13M70.60 199.14V211.42M71.10 198.13V209.09M71.60 197.18V207.54M72.10 197.80V206.53M72.60 198.15V209.89M73.10 199.04V207.62M73.60 199.37V207.89M74.10 200.48V208.28M74.60 197.86V208.21M75.10 197.86V208.92M75.60 194.54V206.61M76.10 194.51V206.44M76.60 196.02V202.24M77.10 193.85V204.53M77.60 197.19V202.91M78.10 197.00V206.53M78.60 198.31V208.59M79.10 198.50V207.03M79.60 200.06V206.96M80.10 199.34V205.89M80.60 199.29V203.17M81.10 192.56V204.80M81.60 197.08V203.31M82.10 198.28V203.38M82.60 198.84V204.85M83.10 200.21V207.64M83.60 200.78V209.26M84.10 200.78V207.10M84.60 201.66V206.41M84.80 196.48V204.32M85.30 191.03V201.67M85.80 184.17V198.31M86.30 175.74V192.31M86.80 168.61V187.22M87.30 164.73V189.50M87.80 164.73V179.42M88.30 158.44V185.02M88.80 163.98V181.74M89.30 164.58V179.44M89.80 165.05V178.81M90.30 165.90V177.05M90.80 162.30V181.45M91.30 163.74V177.20M91.80 169.42V179.20M92.30 162.57V183.27M92.80 167.86V182.25M93.30 169.68V180.59M93.80 166.01V184.20M94.30 171.72V182.63M94.80 169.24V179.70M95.30 163.58V178.70M95.80 162.73V187.44M96.30 158.78V182.86M96.80 162.43V181.31M97.30 158.39V179.46M97.80 165.11V180.23M98.30 168.37V186.06M98.80 177.55V196.38M99.30 190.94V205.56M99.80 196.33V217.40M100.30 191.00V216.81M100.80 198.17V216.81M101.30 200.30V215.75M101.80 193.34V214.42M102.30 201.07V215.49M102.80 186.30V212.55M103.30 168.98V193.20M103.80 162.17V209.93M104.30 169.59V201.16M104.80 169.59V203.81M105.30 159.81V203.23M105.80 171.83V209.18M106.30 172.47V199.22M106.80 180.64V208.10M107.30 191.66V211.95M107.80 192.27V211.17M108.30 189.54V211.17M108.80 192.76V208.24M109.30 183.27V207.72M109.80 188.40V205.69M110.30 193.87V209.41M110.80 192.21V205.53M111.30 194.55V206.75M111.80 192.63V205.44M112.30 192.40V208.83M112.80 194.78V208.98M113.30 191.47V208.63M113.80 187.18V206.08M114.30 190.10V206.32M114.80 184.22V205.69M115.30 188.14V204.67M115.80 180.74V197.04M116.30 172.47V192.01M116.80 156.54V185.43M117.30 163.57V180.31M117.80 168.53V181.00M118.30 162.64V179.10M118.80 164.83V182.73M119.30 166.58V178.64M119.80 171.64V186.46M120.30 167.70V186.21M120.80 171.14V189.65M121.30 174.28V189.62M121.80 169.08V189.54M122.30 171.20V188.66M122.80 160.93V194.37M123.30 171.43V202.57M123.80 172.73V198.80M124.30 174.36V193.17M124.80 169.27V192.12M125.30 172.47V201.18M125.80 170.80V196.56M126.30 160.77V192.96M126.80 175.72V196.35M127.30 181.59V201.34M127.80 178.78V197.62M128.30 172.46V197.82M128.80 176.69V196.30M129.30 178.69V195.07M129.80 180.80V197.57M130.30 176.97V194.60M130.80 179.80V190.05M131.30 177.94V188.40M131.80 177.24V191.23M132.30 178.23V185.89M132.80 178.36V187.40M146.60 184.16V191.91M147.10 183.44V193.45M147.60 181.49V191.86M148.10 180.65V192.58M148.60 180.35V193.50M149.10 177.86V192.97M149.60 170.55V190.31M150.10 177.97V188.06M150.60 174.44V192.33M151.10 173.17V193.84M151.60 179.12V194.62M152.10 178.79V190.79M152.60 173.18V192.71M153.10 181.06V191.88M153.60 173.76V190.88M154.10 167.77V188.78M154.60 176.99V187.45M155.10 177.31V196.52M155.60 174.73V190.80M156.10 176.81V197.25M156.60 174.48V189.65M157.10 175.02V189.56M157.60 172.26V194.58M158.10 173.64V203.01M158.60 173.50V199.37M159.10 173.43V196.94M236.20 219.99V229.46M236.70 216.23V233.32M237.20 216.79V228.57M237.70 217.64V230.10M238.20 216.11V227.93M238.70 217.61V228.52M239.20 212.17V227.45M239.70 217.73V232.05M240.20 216.59V229.93M240.70 217.28V232.60M241.20 211.70V231.76M241.70 215.22V241.52M242.20 211.11V237.96M242.70 212.41V240.15M243.20 218.77V237.20M243.70 215.13V233.57M244.20 214.90V234.57M244.70 211.61V243.29M245.20 209.63V229.88M245.70 208.67V229.03M246.20 212.80V225.42M246.70 211.60V220.61M247.20 208.89V223.55M247.70 207.80V223.55M248.20 206.81V221.30M248.70 209.21V225.08M249.20 213.13V224.31M249.70 208.96V221.52M250.20 209.80V229.45M250.70 211.48V223.75M251.20 211.78V223.14M251.70 211.76V223.36M252.20 211.93V222.52M252.70 210.73V222.96M253.20 208.68V223.18M253.70 208.31V223.09M254.20 212.14V222.21M254.70 208.50V222.36M255.20 208.50V222.64M255.70 208.71V219.27M256.20 209.79V218.24M256.70 209.58V218.47M257.20 208.91V218.81M257.70 209.95V216.96M258.20 212.57V217.09M88.40 173.49L88.38 161.00M98.00 175.01L97.97 158.20M93.50 175.27L93.41 187.60M104.90 177.25L104.81 163.20M107.50 199.84L107.33 220.20M114.60 196.45L114.76 208.10M117.80 167.55L118.03 160.50M128.50 187.18L128.69 205.20M158.00 182.80L157.83 167.30M155.00 181.95L155.03 200.00M152.50 184.80L152.46 197.20M241.60 224.85L241.63 209.00M247.80 217.02L247.85 195.50M251.40 215.36L251.21 201.00M254.00 213.77L254.01 202.60M256.40 213.18L256.16 203.00M244.00 229.00L243.77 245.50M247.00 222.44L246.81 238.50M46.50 205.66L46.56 215.50M71.20 204.14L71.30 215.30M59.70 205.60L59.82 215.50" fill="none" stroke="#1f77b4" stroke-width="1.0" stroke-linecap="round"/>
<polyline points="133.2,177.0 146.6,187.9" fill="none" stroke="#1f77b4" stroke-width="0.8"/>
<polyline points="159.4,193.9 236.2,224.8" fill="none" stroke="#1f77b4" stroke-width="0.8"/>
<polyline points="45.50,205.00 46.40,205.60 50.10,208.00 53.70,206.00 56.90,204.20 61.10,206.30 63.80,204.70 67.50,202.40 70.20,204.00 73.90,204.50 77.50,201.90 80.30,201.00 83.50,203.50 84.90,199.00 85.80,192.00 87.30,174.00 88.80,173.30 93.80,175.40 97.50,174.20 98.30,175.50 99.00,196.00 101.20,210.40 102.30,207.00 103.40,178.00 105.40,177.00 106.40,200.60 109.60,198.40 112.20,197.30 115.30,196.20 117.30,168.00 118.40,167.00 119.30,172.00 120.00,185.50 123.70,185.70 127.40,187.60 130.30,186.50 133.20,183.90 146.40,185.40 147.30,187.00 150.30,187.30 155.40,181.50 159.00,183.30 236.00,223.00 238.30,223.80 241.20,223.00 242.50,229.00 246.50,229.00 247.40,217.20 250.00,216.00 252.20,215.00 254.40,213.50 256.90,213.10 258.30,213.00" fill="none" stroke="#ff7f0e" stroke-width="0.8" stroke-dasharray="2.2,1.1"/>
</g>
<rect x="35.5" y="154.4" width="233.3" height="96.29999999999998" fill="none" stroke="#959595" stroke-width="1"/>
<line x1="42.90" y1="250.7" x2="42.90" y2="252.7" stroke="#959595" stroke-width="0.8"/>
<text transform="translate(42.90,260.00) scale(0.8860759493670886,1)" font-size="7.9" text-anchor="middle" class="k">2005.0</text>
<line x1="70.59" y1="250.7" x2="70.59" y2="252.7" stroke="#959595" stroke-width="0.8"/>
<text transform="translate(70.59,260.00) scale(0.8860759493670886,1)" font-size="7.9" text-anchor="middle" class="k">2007.5</text>
<line x1="98.28" y1="250.7" x2="98.28" y2="252.7" stroke="#959595" stroke-width="0.8"/>
<text transform="translate(98.28,260.00) scale(0.8860759493670886,1)" font-size="7.9" text-anchor="middle" class="k">2010.0</text>
<line x1="125.96" y1="250.7" x2="125.96" y2="252.7" stroke="#959595" stroke-width="0.8"/>
<text transform="translate(125.96,260.00) scale(0.8860759493670886,1)" font-size="7.9" text-anchor="middle" class="k">2012.5</text>
<line x1="153.65" y1="250.7" x2="153.65" y2="252.7" stroke="#959595" stroke-width="0.8"/>
<text transform="translate(153.65,260.00) scale(0.8860759493670886,1)" font-size="7.9" text-anchor="middle" class="k">2015.0</text>
<line x1="181.34" y1="250.7" x2="181.34" y2="252.7" stroke="#959595" stroke-width="0.8"/>
<text transform="translate(181.34,260.00) scale(0.8860759493670886,1)" font-size="7.9" text-anchor="middle" class="k">2017.5</text>
<line x1="209.03" y1="250.7" x2="209.03" y2="252.7" stroke="#959595" stroke-width="0.8"/>
<text transform="translate(209.03,260.00) scale(0.8860759493670886,1)" font-size="7.9" text-anchor="middle" class="k">2020.0</text>
<line x1="236.71" y1="250.7" x2="236.71" y2="252.7" stroke="#959595" stroke-width="0.8"/>
<text transform="translate(236.71,260.00) scale(0.8860759493670886,1)" font-size="7.9" text-anchor="middle" class="k">2022.5</text>
<line x1="264.40" y1="250.7" x2="264.40" y2="252.7" stroke="#959595" stroke-width="0.8"/>
<text transform="translate(264.40,260.00) scale(0.8860759493670886,1)" font-size="7.9" text-anchor="middle" class="k">2025.0</text>
<line x1="33.5" y1="173.40" x2="35.5" y2="173.40" stroke="#959595" stroke-width="0.8"/>
<text transform="translate(31.50,176.07) scale(0.8860759493670886,1)" font-size="7.9" text-anchor="end" class="k">0.05</text>
<line x1="33.5" y1="194.47" x2="35.5" y2="194.47" stroke="#959595" stroke-width="0.8"/>
<text transform="translate(31.50,197.14) scale(0.8860759493670886,1)" font-size="7.9" text-anchor="end" class="k">0.04</text>
<line x1="33.5" y1="215.54" x2="35.5" y2="215.54" stroke="#959595" stroke-width="0.8"/>
<text transform="translate(31.50,218.21) scale(0.8860759493670886,1)" font-size="7.9" text-anchor="end" class="k">0.03</text>
<line x1="33.5" y1="236.61" x2="35.5" y2="236.61" stroke="#959595" stroke-width="0.8"/>
<text transform="translate(31.50,239.28) scale(0.8860759493670886,1)" font-size="7.9" text-anchor="end" class="k">0.02</text>
<line x1="316.10" y1="154.4" x2="316.10" y2="250.6" stroke="#d8d8d8" stroke-width="1.1"/>
<line x1="343.78" y1="154.4" x2="343.78" y2="250.6" stroke="#d8d8d8" stroke-width="1.1"/>
<line x1="371.45" y1="154.4" x2="371.45" y2="250.6" stroke="#d8d8d8" stroke-width="1.1"/>
<line x1="399.12" y1="154.4" x2="399.12" y2="250.6" stroke="#d8d8d8" stroke-width="1.1"/>
<line x1="426.80" y1="154.4" x2="426.80" y2="250.6" stroke="#d8d8d8" stroke-width="1.1"/>
<line x1="454.48" y1="154.4" x2="454.48" y2="250.6" stroke="#d8d8d8" stroke-width="1.1"/>
<line x1="482.15" y1="154.4" x2="482.15" y2="250.6" stroke="#d8d8d8" stroke-width="1.1"/>
<line x1="509.82" y1="154.4" x2="509.82" y2="250.6" stroke="#d8d8d8" stroke-width="1.1"/>
<line x1="537.50" y1="154.4" x2="537.50" y2="250.6" stroke="#d8d8d8" stroke-width="1.1"/>
<line x1="308.4" y1="156.90" x2="542.2" y2="156.90" stroke="#d8d8d8" stroke-width="1.1"/>
<line x1="308.4" y1="179.05" x2="542.2" y2="179.05" stroke="#d8d8d8" stroke-width="1.1"/>
<line x1="308.4" y1="201.20" x2="542.2" y2="201.20" stroke="#d8d8d8" stroke-width="1.1"/>
<line x1="308.4" y1="223.35" x2="542.2" y2="223.35" stroke="#d8d8d8" stroke-width="1.1"/>
<line x1="308.4" y1="245.50" x2="542.2" y2="245.50" stroke="#d8d8d8" stroke-width="1.1"/>
<g clip-path="url(#cBR)">
<path d="M318.80 191.24V216.85M319.30 194.06V221.55M319.80 201.07V219.67M320.30 189.77V210.97M320.80 188.81V215.05M321.30 186.78V216.22M321.80 200.38V214.67M322.30 206.30V225.29M322.80 199.13V222.21M323.30 195.93V215.83M323.80 185.38V218.51M324.30 185.38V212.39M324.80 189.69V207.29M325.30 192.77V213.52M325.80 198.08V211.80M326.30 201.03V215.97M326.80 196.68V220.81M327.30 198.81V215.19M327.80 190.34V208.77M328.30 186.34V210.36M328.80 189.70V207.04M329.30 178.91V204.13M329.80 183.68V202.62M330.30 184.03V213.26M330.80 184.11V201.71M331.30 185.97V204.43M331.80 190.07V204.43M332.30 189.25V203.91M332.80 190.99V205.29M333.30 191.69V206.35M333.80 195.04V220.03M334.30 192.03V216.31M334.80 192.03V217.34M335.30 189.30V209.06M335.80 192.42V207.73M336.30 196.75V211.23M336.80 193.66V209.82M337.30 195.01V206.50M337.80 198.08V213.95M338.30 191.01V215.43M338.80 195.66V210.77M339.30 185.09V208.51M339.80 186.27V207.31M340.30 191.77V202.77M340.80 182.54V204.68M341.30 184.73V200.48M341.80 186.17V209.14M342.30 185.86V211.18M342.80 200.65V215.91M343.30 191.46V210.59M343.80 191.37V211.83M344.30 185.90V205.12M344.80 179.35V204.61M345.30 184.31V205.94M345.80 179.48V196.78M346.30 163.12V194.11M346.80 173.68V194.23M347.30 170.26V196.69M347.80 174.92V197.78M348.30 180.94V201.35M348.80 180.74V203.58M349.30 177.33V199.97M349.80 190.58V205.13M350.30 188.38V208.42M350.80 187.83V205.62M351.30 189.29V207.29M351.80 190.56V206.34M352.30 187.93V209.41M352.80 189.09V213.66M353.30 190.19V209.22M353.80 192.85V214.26M354.30 188.89V208.22M354.80 180.40V206.53M355.30 185.08V202.66M355.80 189.99V214.00M356.30 192.32V206.03M356.80 190.56V207.32M357.30 190.58V208.24M357.80 190.53V215.59M358.30 197.60V214.95M358.80 195.92V222.99M359.30 188.15V209.67M359.80 191.19V209.51M360.30 193.16V211.46M360.80 197.55V218.63M361.30 197.30V219.32M361.80 190.23V221.34M362.30 197.70V219.61M362.80 193.33V212.75M363.30 193.78V218.18M363.80 194.96V217.26M364.30 194.47V218.34M364.80 198.81V217.02M365.30 186.46V212.92M365.80 190.32V208.14M366.30 185.02V204.47M366.80 181.48V229.31M367.30 177.41V205.25M367.80 176.10V208.67M368.30 172.60V194.70M368.80 165.35V198.65M369.30 161.91V197.90M369.80 185.26V218.46M370.30 195.73V225.58M370.80 197.05V222.48M371.30 199.02V225.12M371.80 200.42V233.02M372.30 187.01V215.49M372.80 187.80V211.46M373.30 175.38V214.57M373.80 189.08V215.88M374.30 181.01V219.03M374.80 182.77V214.84M375.30 185.94V211.08M375.80 179.66V214.61M376.30 188.18V208.71M376.80 168.91V216.34M377.30 173.04V198.65M377.80 177.12V214.45M378.30 192.92V217.03M378.80 190.88V227.90M379.30 185.99V217.24M379.80 178.97V224.04M380.30 176.31V204.58M380.80 171.25V193.54M381.30 182.14V207.50M381.80 189.06V222.09M382.30 189.88V219.34M382.80 188.61V219.25M383.30 192.06V217.95M383.80 204.20V218.19M384.30 198.47V225.42M384.80 197.67V223.37M385.30 195.56V228.10M385.80 191.68V219.17M386.30 198.97V215.76M386.80 197.06V214.81M387.30 192.08V216.84M387.80 191.06V219.47M388.30 195.58V219.47M388.80 193.57V216.63M389.30 186.51V213.87M389.80 191.39V211.64M390.30 183.10V216.17M390.80 188.54V221.65M391.30 194.42V221.51M391.80 191.23V224.84M392.30 178.63V212.71M392.80 190.56V213.26M393.30 178.97V228.96M393.80 183.33V213.87M394.30 183.69V220.28M394.80 184.08V207.95M395.30 184.08V210.87M395.80 179.46V210.65M396.30 176.14V207.45M396.80 170.15V206.95M397.30 170.72V215.64M397.80 169.74V196.95M398.30 164.20V214.27M398.80 166.72V207.04M399.30 159.49V215.67M399.80 174.55V208.43M400.30 170.49V222.26M400.80 185.36V216.80M401.30 178.78V218.89M401.80 175.48V219.67M402.30 182.10V213.71M402.80 175.23V203.12M403.30 185.56V212.66M403.80 188.89V209.74M404.30 188.44V212.82M404.80 188.44V208.11M405.30 186.46V204.82M419.20 195.01V213.62M419.70 191.31V211.29M420.20 194.98V214.39M420.70 186.00V217.23M421.20 190.50V213.22M421.70 193.47V221.13M422.20 187.44V222.12M422.70 195.96V219.60M423.20 186.06V222.48M423.70 188.64V219.90M424.20 188.64V213.91M424.70 190.05V220.06M425.20 186.94V220.06M425.70 193.12V223.29M426.20 189.88V213.83M426.70 194.42V212.91M427.20 188.50V225.95M427.70 203.95V230.23M428.20 197.41V224.88M428.70 192.02V222.92M429.20 195.95V231.46M429.70 194.23V231.09M430.20 192.62V232.44M430.70 186.62V214.74M431.20 188.60V216.93M431.70 193.42V216.79M432.20 173.95V219.47M432.70 173.95V217.11M509.20 196.43V210.45M509.70 195.37V211.26M510.20 191.37V209.76M510.70 191.20V216.89M511.20 179.57V217.78M511.70 179.57V210.44M512.20 190.09V215.76M512.70 185.80V212.26M513.20 186.73V209.96M513.70 182.43V204.93M514.20 181.25V205.67M514.70 180.75V202.63M515.20 177.05V207.82M515.70 181.12V209.92M516.20 180.05V213.82M516.70 180.05V205.27M517.20 184.16V212.60M517.70 186.84V218.97M518.20 183.44V215.81M518.70 187.25V215.52M519.20 181.04V214.59M519.70 179.79V216.84M520.20 186.66V215.35M520.70 195.90V220.90M521.20 183.50V219.45M521.70 192.55V218.99M522.20 199.52V217.29M522.70 194.44V220.53M523.20 191.93V222.62M523.70 188.99V208.64M524.20 181.77V206.85M524.70 185.09V208.04M525.20 184.82V207.34M525.70 179.23V207.34M526.20 184.37V200.13M526.70 177.75V202.55M527.20 190.35V217.37M527.70 191.65V209.23M528.20 194.58V215.33M528.70 189.85V208.95M529.20 189.85V208.11M529.70 198.35V211.55M530.20 198.63V212.13M530.70 188.66V209.10M531.20 190.96V209.10M319.00 200.50L318.87 178.20M320.00 200.50L320.17 177.00M326.70 200.50L326.53 181.50M330.00 200.50L329.84 182.60M335.50 200.50L335.38 183.70M339.90 200.50L339.72 187.00M345.40 200.50L345.45 174.90M347.60 200.50L347.37 179.30M354.00 200.50L354.13 185.90M360.70 200.50L360.53 174.90M369.50 200.50L369.48 167.20M372.80 200.50L372.63 165.00M378.30 200.50L378.54 162.80M380.50 200.50L380.74 169.40M388.20 200.50L388.28 179.30M395.90 200.50L395.70 158.40M399.20 200.50L399.00 157.30M404.70 200.50L404.49 183.70M319.00 200.50L318.91 217.50M325.60 200.50L325.48 214.20M332.20 200.50L332.27 219.70M343.20 200.50L343.18 220.80M360.70 200.50L360.92 237.30M366.20 200.50L366.04 226.30M372.80 200.50L372.85 216.40M377.20 200.50L377.09 232.90M380.50 200.50L380.61 240.50M387.10 200.50L387.33 218.60M391.50 200.50L391.71 247.10M395.90 200.50L395.70 223.00M401.40 200.50L401.17 237.30M422.30 200.50L422.19 173.80M431.00 200.50L430.88 169.40M428.80 200.50L428.89 184.80M427.70 200.50L427.64 237.30M432.00 200.50L431.79 223.00M420.10 200.50L420.00 218.60M426.70 200.50L426.47 237.30M511.20 200.50L511.05 179.30M514.50 200.50L514.59 174.90M517.80 200.50L517.70 165.00M520.00 200.50L520.01 158.40M521.10 200.50L521.01 157.30M524.40 200.50L524.42 169.40M527.70 200.50L527.78 180.40M514.50 200.50L514.52 221.90M516.70 200.50L516.58 237.30M522.20 200.50L522.39 219.70M525.50 200.50L525.71 214.20" fill="none" stroke="#ffa500" stroke-width="0.95"/>
<circle cx="319.00" cy="178.20" r="0.6" fill="#ffa500"/>
<circle cx="320.00" cy="177.00" r="0.6" fill="#ffa500"/>
<circle cx="326.70" cy="181.50" r="0.6" fill="#ffa500"/>
<circle cx="330.00" cy="182.60" r="0.6" fill="#ffa500"/>
<circle cx="335.50" cy="183.70" r="0.6" fill="#ffa500"/>
<circle cx="339.90" cy="187.00" r="0.6" fill="#ffa500"/>
<circle cx="345.40" cy="174.90" r="0.6" fill="#ffa500"/>
<circle cx="347.60" cy="179.30" r="0.6" fill="#ffa500"/>
<circle cx="354.00" cy="185.90" r="0.6" fill="#ffa500"/>
<circle cx="360.70" cy="174.90" r="0.6" fill="#ffa500"/>
<circle cx="369.50" cy="167.20" r="0.6" fill="#ffa500"/>
<circle cx="372.80" cy="165.00" r="0.6" fill="#ffa500"/>
<circle cx="378.30" cy="162.80" r="0.6" fill="#ffa500"/>
<circle cx="380.50" cy="169.40" r="0.6" fill="#ffa500"/>
<circle cx="388.20" cy="179.30" r="0.6" fill="#ffa500"/>
<circle cx="395.90" cy="158.40" r="0.6" fill="#ffa500"/>
<circle cx="399.20" cy="157.30" r="0.6" fill="#ffa500"/>
<circle cx="404.70" cy="183.70" r="0.6" fill="#ffa500"/>
<circle cx="319.00" cy="217.50" r="0.6" fill="#ffa500"/>
<circle cx="325.60" cy="214.20" r="0.6" fill="#ffa500"/>
<circle cx="332.20" cy="219.70" r="0.6" fill="#ffa500"/>
<circle cx="343.20" cy="220.80" r="0.6" fill="#ffa500"/>
<circle cx="360.70" cy="237.30" r="0.6" fill="#ffa500"/>
<circle cx="366.20" cy="226.30" r="0.6" fill="#ffa500"/>
<circle cx="372.80" cy="216.40" r="0.6" fill="#ffa500"/>
<circle cx="377.20" cy="232.90" r="0.6" fill="#ffa500"/>
<circle cx="380.50" cy="240.50" r="0.6" fill="#ffa500"/>
<circle cx="387.10" cy="218.60" r="0.6" fill="#ffa500"/>
<circle cx="391.50" cy="247.10" r="0.6" fill="#ffa500"/>
<circle cx="395.90" cy="223.00" r="0.6" fill="#ffa500"/>
<circle cx="401.40" cy="237.30" r="0.6" fill="#ffa500"/>
<circle cx="422.30" cy="173.80" r="0.6" fill="#ffa500"/>
<circle cx="431.00" cy="169.40" r="0.6" fill="#ffa500"/>
<circle cx="428.80" cy="184.80" r="0.6" fill="#ffa500"/>
<circle cx="427.70" cy="237.30" r="0.6" fill="#ffa500"/>
<circle cx="432.00" cy="223.00" r="0.6" fill="#ffa500"/>
<circle cx="420.10" cy="218.60" r="0.6" fill="#ffa500"/>
<circle cx="426.70" cy="237.30" r="0.6" fill="#ffa500"/>
<circle cx="511.20" cy="179.30" r="0.6" fill="#ffa500"/>
<circle cx="514.50" cy="174.90" r="0.6" fill="#ffa500"/>
<circle cx="517.80" cy="165.00" r="0.6" fill="#ffa500"/>
<circle cx="520.00" cy="158.40" r="0.6" fill="#ffa500"/>
<circle cx="521.10" cy="157.30" r="0.6" fill="#ffa500"/>
<circle cx="524.40" cy="169.40" r="0.6" fill="#ffa500"/>
<circle cx="527.70" cy="180.40" r="0.6" fill="#ffa500"/>
<circle cx="514.50" cy="221.90" r="0.6" fill="#ffa500"/>
<circle cx="516.70" cy="237.30" r="0.6" fill="#ffa500"/>
<circle cx="522.20" cy="219.70" r="0.6" fill="#ffa500"/>
<circle cx="525.50" cy="214.20" r="0.6" fill="#ffa500"/>
<polyline points="405.5,184.8 419.2,206.7" fill="none" stroke="#ffa500" stroke-width="0.8"/>
<polyline points="432.7,223 509.2,198.8" fill="none" stroke="#ffa500" stroke-width="0.8"/>
</g>
<rect x="308.4" y="154.4" width="233.80000000000007" height="96.19999999999999" fill="none" stroke="#959595" stroke-width="1"/>
<line x1="316.10" y1="250.6" x2="316.10" y2="252.6" stroke="#959595" stroke-width="0.8"/>
<text transform="translate(316.10,259.90) scale(0.8860759493670886,1)" font-size="7.9" text-anchor="middle" class="k">2005.0</text>
<line x1="343.78" y1="250.6" x2="343.78" y2="252.6" stroke="#959595" stroke-width="0.8"/>
<text transform="translate(343.78,259.90) scale(0.8860759493670886,1)" font-size="7.9" text-anchor="middle" class="k">2007.5</text>
<line x1="371.45" y1="250.6" x2="371.45" y2="252.6" stroke="#959595" stroke-width="0.8"/>
<text transform="translate(371.45,259.90) scale(0.8860759493670886,1)" font-size="7.9" text-anchor="middle" class="k">2010.0</text>
<line x1="399.12" y1="250.6" x2="399.12" y2="252.6" stroke="#959595" stroke-width="0.8"/>
<text transform="translate(399.12,259.90) scale(0.8860759493670886,1)" font-size="7.9" text-anchor="middle" class="k">2012.5</text>
<line x1="426.80" y1="250.6" x2="426.80" y2="252.6" stroke="#959595" stroke-width="0.8"/>
<text transform="translate(426.80,259.90) scale(0.8860759493670886,1)" font-size="7.9" text-anchor="middle" class="k">2015.0</text>
<line x1="454.48" y1="250.6" x2="454.48" y2="252.6" stroke="#959595" stroke-width="0.8"/>
<text transform="translate(454.48,259.90) scale(0.8860759493670886,1)" font-size="7.9" text-anchor="middle" class="k">2017.5</text>
<line x1="482.15" y1="250.6" x2="482.15" y2="252.6" stroke="#959595" stroke-width="0.8"/>
<text transform="translate(482.15,259.90) scale(0.8860759493670886,1)" font-size="7.9" text-anchor="middle" class="k">2020.0</text>
<line x1="509.82" y1="250.6" x2="509.82" y2="252.6" stroke="#959595" stroke-width="0.8"/>
<text transform="translate(509.82,259.90) scale(0.8860759493670886,1)" font-size="7.9" text-anchor="middle" class="k">2022.5</text>
<line x1="537.50" y1="250.6" x2="537.50" y2="252.6" stroke="#959595" stroke-width="0.8"/>
<text transform="translate(537.50,259.90) scale(0.8860759493670886,1)" font-size="7.9" text-anchor="middle" class="k">2025.0</text>
<line x1="306.4" y1="156.90" x2="308.4" y2="156.90" stroke="#959595" stroke-width="0.8"/>
<text transform="translate(304.40,159.57) scale(0.8860759493670886,1)" font-size="7.9" text-anchor="end" class="k">0.010</text>
<line x1="306.4" y1="179.05" x2="308.4" y2="179.05" stroke="#959595" stroke-width="0.8"/>
<text transform="translate(304.40,181.72) scale(0.8860759493670886,1)" font-size="7.9" text-anchor="end" class="k">0.005</text>
<line x1="306.4" y1="201.20" x2="308.4" y2="201.20" stroke="#959595" stroke-width="0.8"/>
<text transform="translate(304.40,203.87) scale(0.8860759493670886,1)" font-size="7.9" text-anchor="end" class="k">0.000</text>
<line x1="306.4" y1="223.35" x2="308.4" y2="223.35" stroke="#959595" stroke-width="0.8"/>
<text transform="translate(304.40,226.02) scale(0.8860759493670886,1)" font-size="7.9" text-anchor="end" class="k">-0.005</text>
<line x1="306.4" y1="245.50" x2="308.4" y2="245.50" stroke="#959595" stroke-width="0.8"/>
<text transform="translate(304.40,248.17) scale(0.8860759493670886,1)" font-size="7.9" text-anchor="end" class="k">-0.010</text>
<rect x="230.5" y="28.6" width="36.6" height="18.2" rx="1.2" fill="#fff" fill-opacity="0.8" stroke="#d6d6d6" stroke-width="0.7"/>
<line x1="232.5" y1="33.3" x2="244.0" y2="33.3" stroke="#1f77b4" stroke-width="0.9"/>
<circle cx="238.25" cy="33.3" r="0.8" fill="#1f77b4"/>
<text transform="translate(248.3,35.60) scale(0.8768,1)" font-size="6.9" >Data</text>
<line x1="232.5" y1="41.6" x2="244.0" y2="41.6" stroke="#ff7f0e" stroke-width="0.9" stroke-dasharray="2.2,1"/>
<text transform="translate(248.3,43.90) scale(0.8768,1)" font-size="6.9" >Model</text>
<rect x="230.5" y="156.4" width="36.6" height="18.2" rx="1.2" fill="#fff" fill-opacity="0.8" stroke="#d6d6d6" stroke-width="0.7"/>
<line x1="232.5" y1="161.2" x2="244.0" y2="161.2" stroke="#1f77b4" stroke-width="0.9"/>
<circle cx="238.25" cy="161.2" r="0.8" fill="#1f77b4"/>
<text transform="translate(248.3,163.50) scale(0.8768,1)" font-size="6.9" >Data</text>
<line x1="232.5" y1="169.4" x2="244.0" y2="169.4" stroke="#ff7f0e" stroke-width="0.9" stroke-dasharray="2.2,1"/>
<text transform="translate(248.3,171.70) scale(0.8768,1)" font-size="6.9" >Model</text>
<rect x="310.8" y="28.9" width="44.8" height="9.7" rx="1.2" fill="#fff" fill-opacity="0.8" stroke="#d6d6d6" stroke-width="0.7"/>
<line x1="312.8" y1="33.3" x2="324.3" y2="33.3" stroke="#ffa500" stroke-width="0.9"/>
<circle cx="318.55" cy="33.3" r="0.8" fill="#ffa500"/>
<text transform="translate(328.6,35.60) scale(0.8768,1)" font-size="6.9" >Residuals</text>
<rect x="310.8" y="156.6" width="44.8" height="9.7" rx="1.2" fill="#fff" fill-opacity="0.8" stroke="#d6d6d6" stroke-width="0.7"/>
<line x1="312.8" y1="161.0" x2="324.3" y2="161.0" stroke="#ffa500" stroke-width="0.9"/>
<circle cx="318.55" cy="161.0" r="0.8" fill="#ffa500"/>
<text transform="translate(328.6,163.30) scale(0.8768,1)" font-size="6.9" >Residuals</text></svg></body></html>
